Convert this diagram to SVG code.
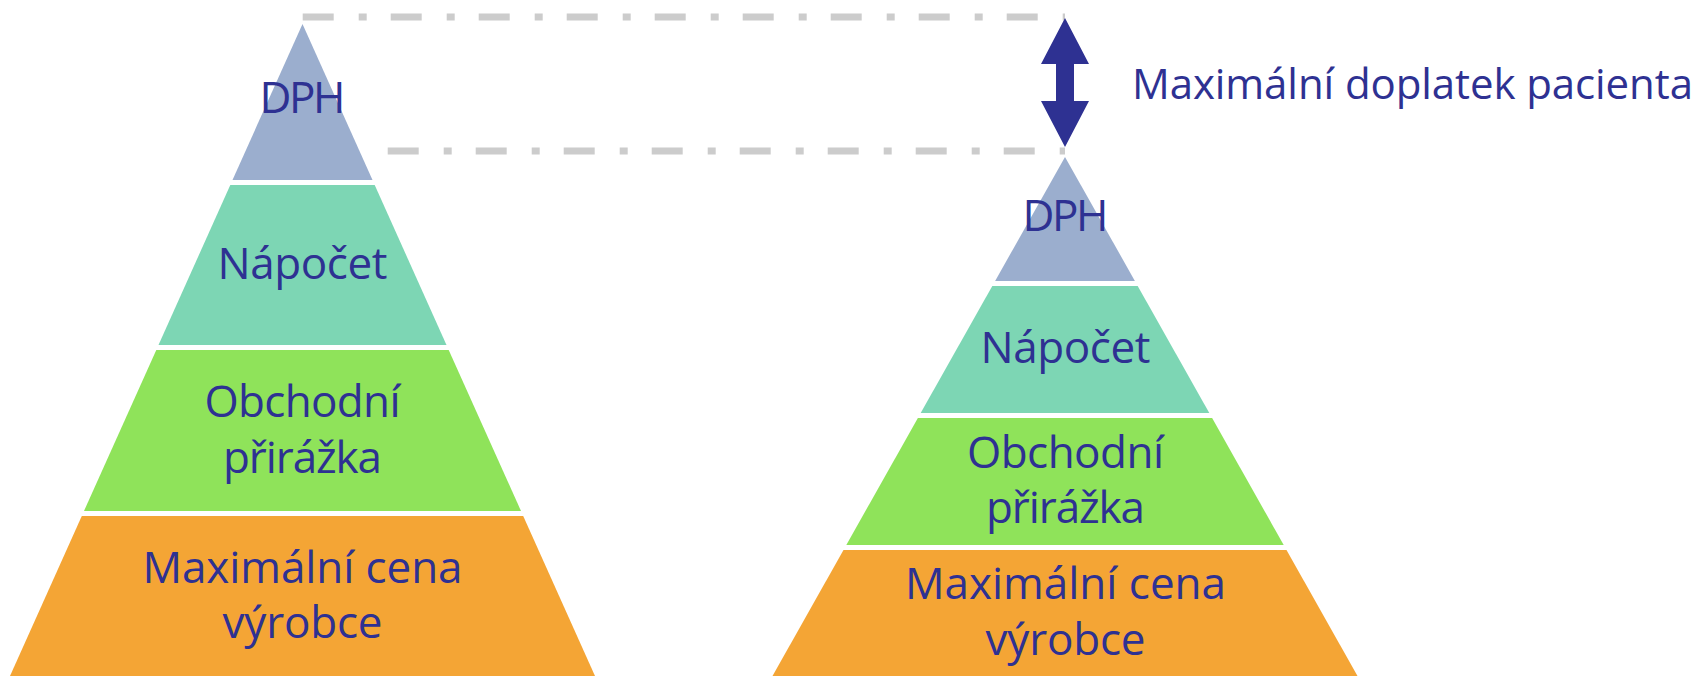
<svg xmlns="http://www.w3.org/2000/svg" width="1696" height="676" viewBox="0 0 1696 676">
<style>
.t{font-family:"Open Sans","Noto Sans","Liberation Sans",sans-serif;fill:#2E3192;text-anchor:middle;font-size:44px}
.lbl{font-family:"Open Sans","Noto Sans","Liberation Sans",sans-serif;fill:#2E3192;font-size:42px}
.dph{fill:#9BAECE}.nap{fill:#7DD6B4}.obc{fill:#8FE35A}.max{fill:#F4A535}
.dash{stroke:#CCCCCC;stroke-width:7;fill:none;stroke-dasharray:31 25 8 24}
</style>
<g id="connectors">
<line class="dash" x1="302.7" y1="17" x2="1065" y2="17"/>
<line class="dash" x1="387.7" y1="151" x2="1065" y2="151"/>
<polygon id="arrow" fill="#2E3192" points="1065,18 1089,64 1074,64 1074,101 1089,101 1065,147 1041,101 1056,101 1056,64 1041,64"/>
</g>
<g id="left-pyramid">
<g id="l-dph"><polygon class="dph" points="302.5,24 372.5,180 232.5,180"/><text class="t" x="302.5" y="113" textLength="86">DPH</text></g>
<g id="l-napocet"><polygon class="nap" points="230.3,185 374.7,185 446.5,345 158.5,345"/><text class="t" x="302.5" y="279" textLength="170">Nápočet</text></g>
<g id="l-obchodni"><polygon class="obc" points="156.3,350 448.7,350 521,511 84,511"/><text class="t" x="302.5" y="417" textLength="196">Obchodní</text><text class="t" x="302.5" y="473" textLength="159">přirážka</text></g>
<g id="l-max"><polygon class="max" points="81.8,516 523.2,516 595,676 10,676"/><text class="t" x="302.5" y="583" textLength="320">Maximální cena</text><text class="t" x="302.5" y="638" textLength="160">výrobce</text></g>
</g>
<g id="right-pyramid">
<g id="r-dph"><polygon class="dph" points="1065,157 1134.9,281 995.1,281"/><text class="t" x="1065.5" y="231" textLength="86">DPH</text></g>
<g id="r-napocet"><polygon class="nap" points="992.3,286 1137.7,286 1209.3,413 920.7,413"/><text class="t" x="1065.5" y="363" textLength="170">Nápočet</text></g>
<g id="r-obchodni"><polygon class="obc" points="917.9,418 1212.1,418 1283.7,545 846.3,545"/><text class="t" x="1065.5" y="468" textLength="197">Obchodní</text><text class="t" x="1065.5" y="523" textLength="159">přirážka</text></g>
<g id="r-max"><polygon class="max" points="843.5,550 1286.5,550 1357.5,676 772.5,676"/><text class="t" x="1065.5" y="599" textLength="321">Maximální cena</text><text class="t" x="1065.5" y="655" textLength="160">výrobce</text></g>
</g>
<g id="label"><text class="lbl" x="1132" y="99" textLength="561">Maximální doplatek pacienta</text></g>
</svg>
